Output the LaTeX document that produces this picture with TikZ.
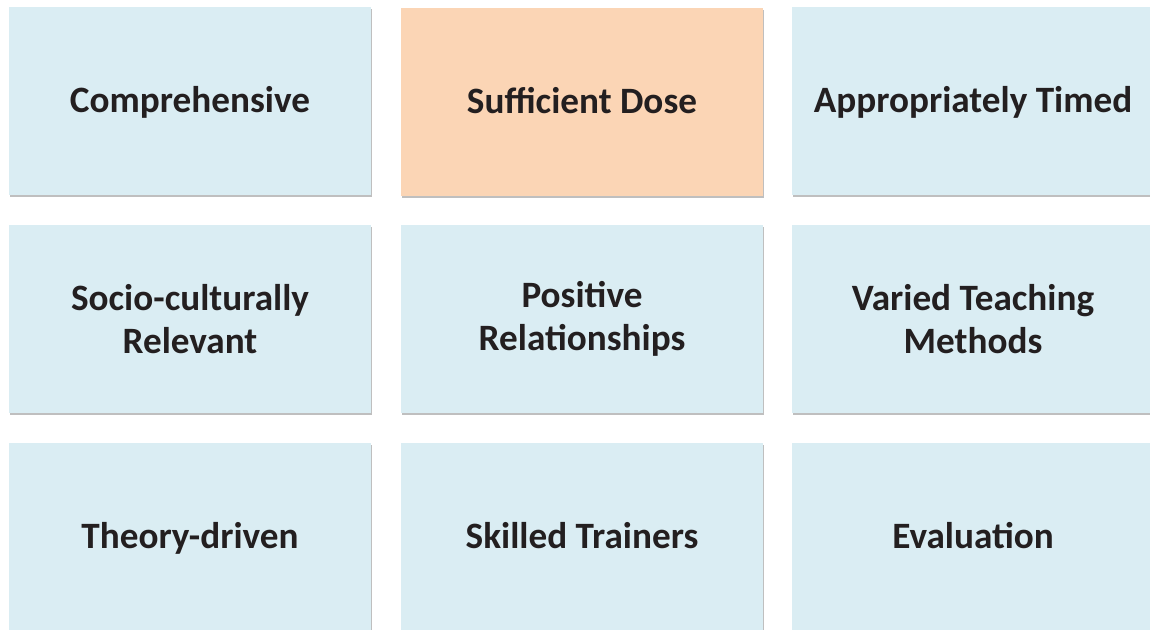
\documentclass[tikz,border=0pt]{standalone}
\usepackage{fontspec}
\setmainfont{Carlito}
\usetikzlibrary{shadows}
\definecolor{cardblue}{HTML}{DAEDF3}
\definecolor{cardorange}{HTML}{FBD5B5}
\definecolor{cardtext}{HTML}{231F20}
\tikzset{
    card/.style={rectangle, fill=cardblue, minimum width=181pt, minimum height=94pt,
        inner sep=0pt, align=center, text=cardtext,
        font=\fontsize{18.6}{21.5}\selectfont\bfseries,
        drop shadow={shadow xshift=0.6pt, shadow yshift=-1pt, fill=black, opacity=0.25}},
    oneline/.style={card, text height=15.25pt, text depth=3.35pt},
    hot/.style={oneline, fill=cardorange}
}
\begin{document}
\begin{tikzpicture}[x=0.5pt, y=-0.5pt]
        \useasboundingbox (0, 0) rectangle (1150, 629);
        \clip (0, 0) rectangle (1150, 629);
        \node[oneline] (c1) at (190, 101) {Comprehensive};
        \node[hot]     (c2) at (582, 102) {Sufficient Dose};
        \node[oneline] (c3) at (973, 101) {Appropriately Timed};
        \node[card]    (c4) at (190, 319) {Socio-culturally\\Relevant};
        \node[card]    (c5) at (582, 319) {Positive\\Relationships};
        \node[card]    (c6) at (973, 319) {Varied Teaching\\Methods};
        \node[oneline] (c7) at (190, 537) {Theory-driven};
        \node[oneline] (c8) at (582, 537) {Skilled Trainers};
        \node[oneline] (c9) at (973, 537) {Evaluation};
    \end{tikzpicture}
\end{document}
